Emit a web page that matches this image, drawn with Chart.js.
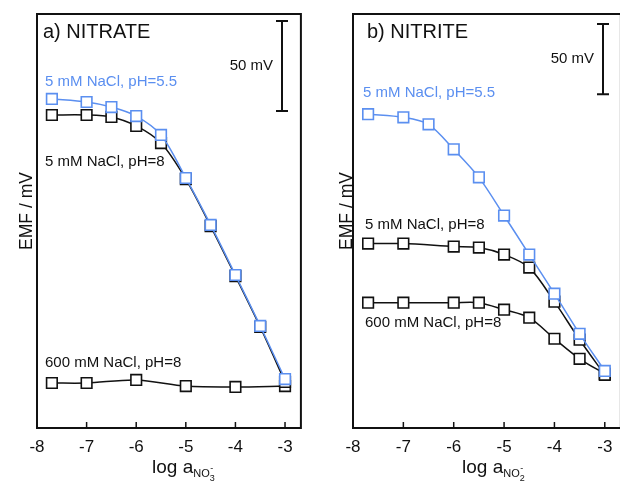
<!DOCTYPE html>
<html>
<head>
<meta charset="utf-8">
<script src="https://cdn.jsdelivr.net/npm/chart.js@4.4.0/dist/chart.umd.min.js"></script>
<style>
    body { margin: 0; background: #fff; width: 620px; height: 482px; overflow: hidden; position: relative; }
    canvas { position: absolute; top: 0; }
    #nitrateChart { left: 0; }
    #nitriteChart { left: 310px; }
</style>
</head>
<body>
<canvas id="nitrateChart" width="310" height="482"></canvas>
<canvas id="nitriteChart" width="320" height="482"></canvas>
<script>
// ➤ Data (EMF in mV, arbitrary offset; log activity on x)
const tickVals = [-8, -7, -6, -5, -4, -3];

const nitrateLogA = [-7.7, -7, -6.5, -6, -5.5, -5, -4.5, -4, -3.5, -3];
const nitrate55 = [182.8, 181.1, 178.3, 173.3, 162.8, 138.9, 112.8, 85.0, 56.7, 27.2];
const nitrate8 = [173.9, 173.9, 172.8, 167.8, 158.3, 138.3, 112.2, 84.4, 56.1, 25.6];
const nitrate600LogA = [-7.7, -7, -6, -5, -4, -3];
const nitrate600 = [25.0, 25.0, 26.7, 23.3, 22.8, 23.3];

const nitriteLogA = [-7.7, -7, -6.5, -6, -5.5, -5, -4.5, -4, -3.5, -3];
const nitrite55 = [223.6, 221.4, 216.4, 198.6, 178.6, 151.4, 123.6, 95.7, 67.1, 40.7];
const nitriteBlackLogA = [-7.7, -7, -6, -5.5, -5, -4.5, -4, -3.5, -3];
const nitrite8 = [131.4, 131.4, 129.3, 128.6, 123.6, 114.3, 90.0, 62.9, 37.9];
const nitrite600 = [89.3, 89.3, 89.3, 89.3, 84.3, 78.6, 63.6, 49.3, 38.6];

const blue = "#5b8ff0";
const black = "#111111";
const fontFamily = "'Liberation Sans', Arial, sans-serif";

function pts(xs, ys) {
    return xs.map((x, i) => ({ x: x, y: ys[i] }));
}

function series(xs, ys, color) {
    return {
        data: pts(xs, ys),
        borderColor: color,
        borderWidth: 1.5,
        pointStyle: "rect",
        pointRadius: 7.5,
        pointBorderWidth: 1.6,
        pointBorderColor: color,
        pointBackgroundColor: "#fff",
        tension: 0.3
    };
}

// ➤ Box, inner ticks, scale bar, labels and axis titles
const panelDecor = {
    id: "panelDecor",
    afterDraw(chart, args, o) {
        const { ctx, chartArea: a, scales: { x, y } } = chart;
        ctx.save();
        ctx.strokeStyle = black;
        ctx.lineWidth = 2;
        ctx.strokeRect(a.left, a.top, a.right - a.left, a.bottom - a.top);

        ctx.lineWidth = 1.5;
        tickVals.forEach(v => {
            const px = x.getPixelForValue(v);
            ctx.beginPath();
            ctx.moveTo(px, a.bottom);
            ctx.lineTo(px, a.bottom - 6);
            ctx.stroke();
        });

        // 50 mV scale bar
        const yt = y.getPixelForValue(o.barTop);
        const yb = y.getPixelForValue(o.barTop - 50);
        ctx.lineWidth = 2;
        ctx.beginPath();
        ctx.moveTo(o.barX, yt); ctx.lineTo(o.barX, yb);
        ctx.moveTo(o.barX - 6, yt); ctx.lineTo(o.barX + 6, yt);
        ctx.moveTo(o.barX - 6, yb); ctx.lineTo(o.barX + 6, yb);
        ctx.stroke();
        ctx.fillStyle = black;
        ctx.font = "15px " + fontFamily;
        ctx.textAlign = "right";
        ctx.textBaseline = "middle";
        ctx.fillText("50 mV", o.barX - 9, (yt + yb) / 2);

        ctx.textAlign = "left";
        o.labels.forEach(l => {
            ctx.font = l.size + "px " + fontFamily;
            ctx.fillStyle = l.color;
            ctx.fillText(l.text, l.x, l.y);
        });

        // y title
        ctx.save();
        ctx.translate(o.yTitleX, 211);
        ctx.rotate(-Math.PI / 2);
        ctx.textAlign = "center";
        ctx.fillStyle = black;
        ctx.font = "17.5px " + fontFamily;
        ctx.fillText("EMF / mV", 0, 0);
        ctx.restore();

        // x title: log a with NO3- / NO2- subscript
        ctx.fillStyle = black;
        ctx.textBaseline = "alphabetic";
        ctx.font = "19px " + fontFamily;
        let tx = 152;
        const base = 473;
        ctx.fillText("log a", tx, base);
        tx += ctx.measureText("log a").width;
        ctx.font = "11px " + fontFamily;
        ctx.fillText("NO", tx, base + 4);
        tx += ctx.measureText("NO").width;
        ctx.font = "9px " + fontFamily;
        ctx.fillText(o.ionDigit, tx, base + 8);
        ctx.fillText("-", tx + 0.5, base - 2);
        ctx.restore();
    }
};

function makeChart(id, datasets, yMax, pad, yWidth, decor) {
    return new Chart(document.getElementById(id).getContext("2d"), {
        type: "line",
        data: { datasets: datasets },
        options: {
            responsive: false,
            animation: false,
            layout: { padding: pad },
            plugins: {
                legend: { display: false },
                tooltip: { enabled: false },
                panelDecor: decor
            },
            scales: {
                x: {
                    type: "linear",
                    min: -8,
                    max: -2.68,
                    grid: { display: false },
                    border: { display: false },
                    afterBuildTicks: s => { s.ticks = tickVals.map(v => ({ value: v })); },
                    afterFit: s => { s.height = 54; },
                    ticks: { color: black, padding: 1, font: { size: 17, family: fontFamily } }
                },
                y: {
                    min: 0,
                    max: yMax,
                    grid: { display: false },
                    border: { display: false },
                    ticks: { display: false },
                    afterFit: s => { s.width = yWidth; }
                }
            }
        },
        plugins: [panelDecor]
    });
}

makeChart("nitrateChart", [
    series(nitrateLogA, nitrate55, blue),
    series(nitrateLogA, nitrate8, black),
    series(nitrate600LogA, nitrate600, black)
], 230, { top: 14, right: 7, left: 0, bottom: 0 }, 37, {
    barX: 282, barTop: 226.1, ionDigit: "3", yTitleX: 27,
    labels: [
        { text: "a) NITRATE", x: 43, y: 32, size: 20, color: black },
        { text: "5 mM NaCl, pH=5.5", x: 45, y: 82, size: 15, color: blue },
        { text: "5 mM NaCl, pH=8", x: 45, y: 162, size: 15, color: black },
        { text: "600 mM NaCl, pH=8", x: 45, y: 363, size: 15, color: black }
    ]
});

makeChart("nitriteChart", [
    series(nitriteLogA, nitrite55, blue),
    series(nitriteBlackLogA, nitrite8, black),
    series(nitriteBlackLogA, nitrite600, black)
], 295, { top: 14, right: 2, left: 0, bottom: 0 }, 43, {
    barX: 293, barTop: 287.9, ionDigit: "2", yTitleX: 37,
    labels: [
        { text: "b) NITRITE", x: 57, y: 32, size: 20, color: black },
        { text: "5 mM NaCl, pH=5.5", x: 53, y: 93, size: 15, color: blue },
        { text: "5 mM NaCl, pH=8", x: 55, y: 225, size: 15, color: black },
        { text: "600 mM NaCl, pH=8", x: 55, y: 323, size: 15, color: black }
    ]
});
</script>
</body>
</html>
